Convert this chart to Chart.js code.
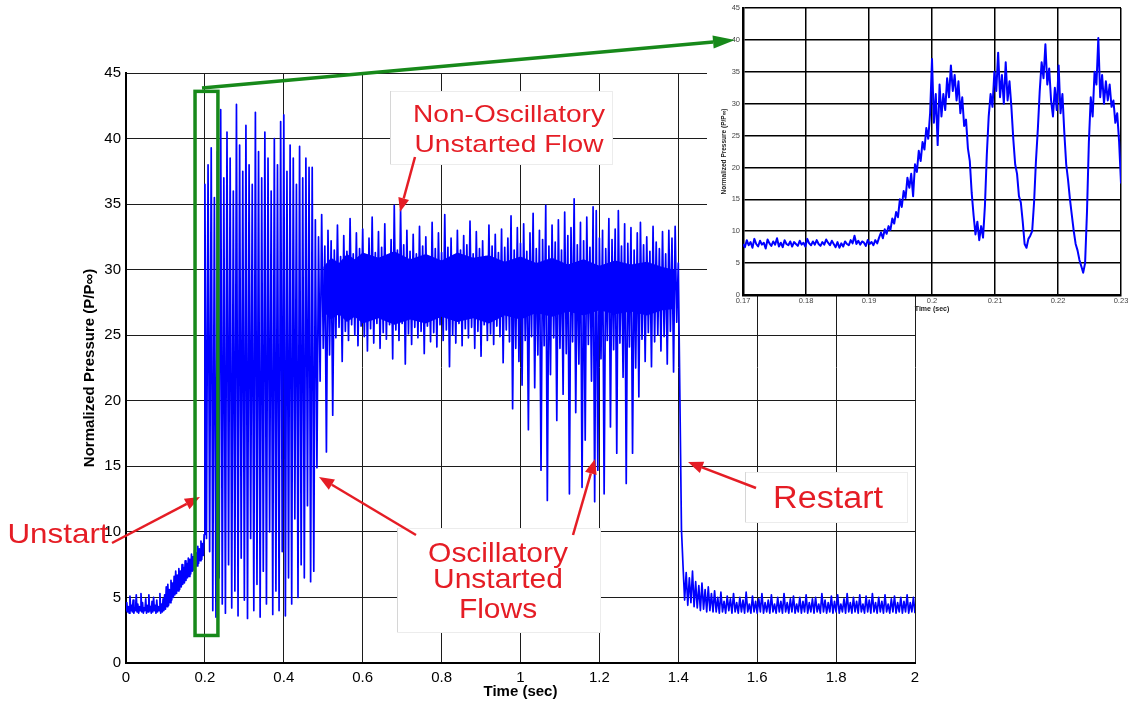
<!DOCTYPE html>
<html>
<head>
  <title>Normalized Pressure vs Time</title>
  <script src="https://cdn.jsdelivr.net/npm/chart.js@4.4.1/dist/chart.umd.min.js"></script>
  <style>
    body { margin: 0; background: #fff; }
    #stage { position: relative; width: 1128px; height: 706px; }
    #stage canvas { position: absolute; left: 0; top: 0; }
  </style>
</head>
<body>
  <div id="stage">
    <canvas id="mainChart" width="1128" height="706"></canvas>
    <canvas id="zoomChart" width="1128" height="706"></canvas>
  </div>
<script>
// ---- pressure record, sampled in segments (start time, step, values) ----

// 0 - 0.198 s, before the unstart (dt = 0.002)
var preUnstart = [
  4.0, 4.6, 3.9, 4.3, 3.8, 5.1, 4.0, 4.4, 3.9, 4.8, 3.8, 4.2, 4.0, 5.2, 3.9, 4.5, 3.8, 4.3, 4.0, 5.3,
  3.9, 4.6, 3.8, 4.2, 4.0, 4.9, 3.8, 4.4, 3.9, 5.2, 4.0, 4.3, 3.8, 4.7, 3.9, 5.0, 4.0, 4.4, 3.8, 4.8,
  3.9, 4.3, 4.0, 5.3, 3.8, 4.5, 3.9, 4.9, 4.0, 5.2,
  4.1, 5.8, 4.3, 6.0, 4.4, 5.6, 4.6, 6.3, 4.8, 6.1, 5.0, 6.6, 5.2, 7.0, 5.3, 6.7, 5.5, 7.2, 5.6, 7.0,
  5.8, 7.5, 6.0, 7.3, 6.1, 7.8, 6.3, 7.6, 6.5, 8.0, 6.6, 7.9, 6.8, 8.3, 7.0, 8.1, 7.1, 8.6, 7.3, 8.4,
  7.4, 8.9, 7.6, 8.7, 7.8, 9.3, 7.9, 9.1, 8.2, 9.8
];

// 0.2 - 0.476 s, oscillatory unstart (dt = 0.004)
var oscillatory = [
  36.5, 9.5, 38.0, 8.5, 39.3, 4.0, 35.5, 3.5, 39.0, 6.5, 42.2, 4.5, 37.0, 3.8, 40.5, 7.5, 38.5, 4.2, 36.0, 5.5,
  42.6, 3.6, 39.5, 8.0, 37.5, 4.8, 41.0, 3.4, 38.0, 9.5, 36.5, 4.0, 42.0, 6.0, 39.0, 3.5, 37.0, 7.0, 40.5, 4.5,
  38.5, 10.0, 36.0, 3.7, 40.0, 5.5, 38.0, 4.0, 41.3, 8.5, 41.8, 3.6, 37.5, 6.5, 39.5, 4.5, 38.5, 11.0, 36.5, 5.0,
  39.4, 7.5, 37.0, 6.5, 38.5, 12.0, 37.8, 6.2, 37.8, 7.0
];

// 0.48 - 1.396 s, unstarted flow plateau (dt = 0.004)
var unstartedPlateau = [
  33.8, 14.9, 32.5, 21.5, 34.2, 24.0, 31.8, 16.1, 33.0, 23.5, 32.2, 18.9, 31.5, 24.8, 33.4, 25.6, 31.0, 23.0, 32.6, 25.3,
  31.4, 24.6, 33.9, 25.8, 31.2, 25.0, 32.8, 24.2, 31.6, 25.7, 33.1, 24.9, 31.0, 23.8, 32.4, 25.5, 34.0, 24.4, 31.3, 25.9,
  32.9, 24.0, 31.7, 25.2, 33.5, 24.7, 31.1, 25.8, 32.3, 23.2, 34.9, 25.4, 31.5, 24.6, 34.6, 25.9, 31.9, 22.8, 33.0, 25.1,
  31.4, 24.3, 32.7, 25.6, 31.2, 24.8, 33.3, 25.3, 31.8, 23.6, 32.5, 25.7, 31.0, 24.5, 33.6, 25.2, 31.6, 24.1, 32.8, 25.8,
  31.3, 24.6, 34.2, 25.4, 31.7, 22.6, 32.4, 25.0, 31.1, 24.4, 33.0, 25.9, 31.5, 24.2, 32.6, 25.5, 31.9, 24.8, 33.7, 25.6,
  31.2, 24.0, 32.9, 25.3, 31.6, 23.4, 32.2, 25.8, 31.0, 24.6, 33.4, 25.1, 31.8, 24.3, 32.7, 25.7, 31.3, 24.9, 33.1, 22.9,
  31.7, 25.4, 32.4, 24.5, 34.1, 19.4, 31.5, 24.0, 33.2, 23.0, 32.0, 21.2, 33.5, 24.6, 31.4, 17.8, 32.8, 24.9, 34.3, 21.0,
  31.6, 23.5, 33.0, 14.7, 32.3, 24.2, 34.9, 12.4, 31.8, 22.0, 33.4, 24.8, 32.1, 18.5, 33.8, 24.0, 31.5, 20.5, 34.4, 23.6,
  32.6, 12.9, 33.2, 24.5, 35.4, 19.1, 31.9, 22.8, 33.6, 13.4, 32.2, 17.0, 34.0, 24.3, 31.7, 21.5, 34.8, 12.3, 34.5, 14.7,
  32.4, 23.2, 33.0, 12.9, 31.6, 24.6, 33.9, 18.0, 32.3, 23.9, 33.1, 16.0, 34.5, 24.4, 31.8, 21.8, 33.5, 13.7, 32.0, 24.1,
  33.2, 16.0, 31.5, 22.5, 32.8, 20.3, 33.6, 24.7, 31.9, 23.0, 32.5, 25.2, 31.4, 22.6, 33.3, 24.5, 32.1, 25.0, 31.6, 23.8,
  32.9, 24.9, 31.2, 22.8, 33.0, 25.3, 32.4, 22.2, 33.3, 26.0
];

// dense core of the plateau noise (time, upper and lower edge)
var plateauCoreTime  = [0.50, 0.52, 0.54, 0.56, 0.58, 0.60, 0.64, 0.68, 0.72, 0.76, 0.80, 0.84, 0.88, 0.92,
                        0.96, 1.00, 1.04, 1.08, 1.12, 1.16, 1.20, 1.24, 1.28, 1.32, 1.36, 1.39];
var plateauCoreUpper = [30.2, 30.9, 30.5, 31.2, 30.8, 31.3, 30.9, 31.4, 30.8, 31.2, 30.7, 31.3, 30.9,
                        31.1, 30.6, 31.0, 30.5, 30.9, 30.4, 30.8, 30.3, 30.7, 30.4, 30.6, 30.2, 30.0];
var plateauCoreLower = [26.8, 26.2, 26.6, 26.0, 26.4, 25.9, 26.3, 25.8, 26.2, 25.9, 26.4, 26.0, 26.3,
                        25.9, 26.5, 26.2, 26.7, 26.4, 26.8, 26.5, 26.9, 26.6, 26.8, 26.5, 26.9, 27.0];

// 1.4 - 2.0 s, restart and started flow (dt = 0.004)
var restartTail = [
  30.5, 20.3, 10.2, 7.4,
  4.8, 6.9, 4.4, 6.5, 4.6, 7.0, 4.3, 6.2, 4.2, 5.9, 4.0, 6.1, 4.1, 5.6, 3.9, 5.8, 4.0, 5.3, 3.9, 5.5,
  3.9, 5.0, 3.8, 5.4, 3.9, 4.7, 3.8, 5.1, 4.0, 4.9, 3.8, 5.3, 3.9, 4.6, 3.8, 5.0, 3.9, 4.8, 3.8, 5.4,
  3.9, 4.5, 3.8, 5.1, 3.9, 4.7, 3.8, 4.9, 3.9, 5.3, 3.8, 4.6, 3.9, 4.8, 3.8, 5.2, 3.9, 4.5, 3.8, 5.0,
  3.9, 4.7, 3.8, 5.3, 3.9, 4.6, 3.8, 4.9, 3.9, 5.1, 3.8, 4.5, 3.9, 5.0, 3.8, 4.7, 3.9, 5.2, 3.8, 4.6,
  3.9, 4.9, 3.8, 5.0, 3.9, 4.5, 3.8, 5.3, 3.9, 4.8, 3.8, 4.6, 3.9, 5.1, 3.8, 4.7, 3.9, 5.2, 3.8, 4.5,
  3.9, 4.9, 3.8, 5.3, 3.9, 4.6, 3.8, 5.0, 3.9, 4.7, 3.8, 5.2, 3.9, 4.5, 3.8, 5.1, 3.9, 4.8, 3.8, 5.3,
  3.9, 4.6, 3.8, 5.0, 3.9, 4.7, 3.8, 5.2, 3.9, 4.5, 3.8, 4.9, 3.9, 5.1, 3.8, 4.6, 3.9, 5.0, 3.8, 4.7,
  3.9, 5.2, 3.8, 4.6, 3.9, 5.0, 3.8
];

// 0.17 - 0.23 s close-up of the unstart (dt = 0.0003)
var unstartCloseUp = [
  8.0, 7.5, 8.6, 7.8, 8.3, 7.4, 8.8, 8.0, 7.6, 8.5, 7.9, 8.2, 7.3, 8.7, 8.1, 7.7, 8.4, 7.9, 8.9, 7.6,
  8.2, 7.5, 8.6, 8.0, 7.8, 8.4, 7.6, 8.3, 8.0, 7.7, 8.5, 7.9, 8.2, 7.6, 8.8, 8.1, 7.8, 8.4, 7.9, 8.6,
  8.0, 7.7, 8.3, 7.9, 8.7, 8.2, 7.8, 8.5, 8.0, 7.5, 8.3, 7.4, 8.1, 7.6, 8.4, 8.0, 7.8, 8.6, 8.1, 9.3,
  8.0, 8.5, 7.9, 8.4, 8.2, 7.7, 8.6, 8.0, 8.3, 7.8,
  8.6, 8.1, 9.0, 9.8, 8.9, 10.3, 9.6, 10.8, 10.2, 12.0, 11.2, 13.0, 12.2, 15.0, 13.8, 16.3, 15.2, 18.4, 16.8, 19.0,
  15.5, 20.5, 19.3, 22.6, 21.0, 24.0, 22.8, 26.2, 24.5, 28.5,
  37.0, 27.0, 31.5, 23.5, 33.0, 28.0, 31.5, 29.0, 34.0, 31.0, 36.0, 32.0, 34.5, 30.5, 33.5, 28.5, 31.0, 26.5, 27.5, 23.0,
  21.0, 16.0, 12.5, 9.5, 11.5, 8.6, 10.8, 9.0, 14.0, 22.0, 28.0, 31.5, 29.5, 35.0, 32.0, 38.0, 31.0, 34.5, 30.0, 36.5,
  30.5, 33.5, 29.5, 24.5, 20.5, 19.0, 15.5, 14.5, 11.5, 8.0, 7.4, 8.8, 9.3, 10.0, 14.5, 21.0, 26.0, 32.0, 36.5, 34.0,
  39.3, 33.0, 35.5, 30.5, 28.0, 32.5, 29.0, 36.0, 28.5, 31.5, 25.5, 20.5, 18.0, 15.0, 12.5, 10.0, 8.0, 7.0, 5.5, 4.5,
  3.5, 5.0, 13.0, 24.0, 31.0, 28.0, 35.0, 33.0, 40.3, 31.0, 34.5, 30.0, 33.5, 30.5, 33.0, 29.5, 30.5, 27.0, 28.5, 24.0,
  17.5
];

var mainTimeTicks = [0, 0.2, 0.4, 0.6, 0.8, 1, 1.2, 1.4, 1.6, 1.8, 2];
var zoomTimeTicks = [0.17, 0.18, 0.19, 0.2, 0.21, 0.22, 0.23];
var pressureTicks = [0, 5, 10, 15, 20, 25, 30, 35, 40, 45];

// window of the record shown in the close-up (time range, pressure range)
var zoomWindow = { t0: 0.175, t1: 0.233, lo: 2.1, hi: 43.6 };

function toPoints(t0, dt, values) {
  return values.map(function (v, i) {
    return { x: +(t0 + i * dt).toFixed(5), y: v };
  });
}
function pairUp(times, values) {
  return times.map(function (t, i) { return { x: t, y: values[i] }; });
}

var mainTrace = [].concat(
  toPoints(0, 0.002, preUnstart),
  toPoints(0.2, 0.004, oscillatory),
  toPoints(0.48, 0.004, unstartedPlateau),
  toPoints(1.4, 0.004, restartTail)
);
var zoomTrace = toPoints(0.17, 0.0003, unstartCloseUp);

var narrow = "'Liberation Sans Narrow', 'Arial Narrow', 'Liberation Sans', Arial, sans-serif";
var arial = "'Liberation Sans', Arial, sans-serif";
var blue = '#0000ff';
var red = '#e51d25';
var green = '#17891a';

function drawArrow(ctx, x1, y1, x2, y2, color, width, headLen, headW) {
  var a = Math.atan2(y2 - y1, x2 - x1);
  var bx = x2 - headLen * Math.cos(a), by = y2 - headLen * Math.sin(a);
  ctx.save();
  ctx.strokeStyle = color;
  ctx.fillStyle = color;
  ctx.lineWidth = width;
  ctx.beginPath();
  ctx.moveTo(x1, y1);
  ctx.lineTo(bx, by);
  ctx.stroke();
  ctx.beginPath();
  ctx.moveTo(x2, y2);
  ctx.lineTo(bx + headW / 2 * Math.sin(a), by - headW / 2 * Math.cos(a));
  ctx.lineTo(bx - headW / 2 * Math.sin(a), by + headW / 2 * Math.cos(a));
  ctx.closePath();
  ctx.fill();
  ctx.restore();
}

// centred red text, stretched a little sideways
function drawLabel(ctx, text, cx, baseline, size, stretch) {
  ctx.save();
  ctx.font = size + 'px ' + arial;
  ctx.fillStyle = red;
  ctx.textAlign = 'center';
  ctx.textBaseline = 'alphabetic';
  ctx.translate(cx, baseline);
  ctx.scale(stretch, 1);
  ctx.fillText(text, 0, 0);
  ctx.restore();
}

function drawBox(ctx, x, y, w, h) {
  ctx.save();
  ctx.fillStyle = '#fff';
  ctx.fillRect(x, y, w, h);
  ctx.strokeStyle = '#ececec';
  ctx.lineWidth = 1;
  ctx.strokeRect(x + 0.5, y + 0.5, w, h);
  ctx.strokeStyle = '#d6d6d6';
  ctx.beginPath();
  ctx.moveTo(x + 0.5, y);
  ctx.lineTo(x + 0.5, y + h);
  ctx.stroke();
  ctx.restore();
}

// callouts on the full record
var calloutPlugin = {
  id: 'callouts',
  afterDraw: function (chart) {
    var ctx = chart.ctx;
    var xs = chart.scales.x, ys = chart.scales.y;

    drawBox(ctx, 390, 91, 222, 73);
    drawLabel(ctx, 'Non-Oscillatory', 509, 122, 24, 1.17);
    drawLabel(ctx, 'Unstarted Flow', 509, 152, 24, 1.17);
    drawArrow(ctx, 415, 157, 400, 212, red, 2.5, 14, 11);

    drawBox(ctx, 397, 528, 203, 104);
    drawLabel(ctx, 'Oscillatory', 498, 562, 28, 1.07);
    drawLabel(ctx, 'Unstarted', 498, 588, 28, 1.07);
    drawLabel(ctx, 'Flows', 498, 618, 28, 1.07);
    drawArrow(ctx, 416, 535, 319, 477, red, 2.5, 15, 12);
    drawArrow(ctx, 573, 535, 595, 459, red, 2.5, 15, 12);

    drawBox(ctx, 745, 472, 162, 50);
    drawLabel(ctx, 'Restart', 828, 508, 31, 1.1);
    drawArrow(ctx, 756, 488, 688, 462, red, 2.5, 15, 12);

    drawLabel(ctx, 'Unstart', 58, 543, 28, 1.12);
    drawArrow(ctx, 112, 543, 200, 497, red, 2.5, 15, 12);

    // frame around the close-up window
    var l = xs.getPixelForValue(zoomWindow.t0), r = xs.getPixelForValue(zoomWindow.t1);
    var t = ys.getPixelForValue(zoomWindow.hi), b = ys.getPixelForValue(zoomWindow.lo);
    ctx.save();
    ctx.strokeStyle = green;
    ctx.lineWidth = 3.5;
    ctx.strokeRect(l, t, r - l, b - t);
    ctx.restore();
  }
};

function fixWidth(w) {
  return function (s) { s.width = w; s.paddingTop = 0; s.paddingBottom = 0; };
}
function fixHeight(h) {
  return function (s) { s.height = h; s.paddingLeft = 0; s.paddingRight = 0; };
}

new Chart(document.getElementById('mainChart'), {
  type: 'line',
  data: {
    datasets: [{
      data: mainTrace,
      borderColor: blue,
      borderWidth: 1.7,
      borderJoinStyle: 'round',
      pointRadius: 0,
      tension: 0
    }, {
      data: pairUp(plateauCoreTime, plateauCoreUpper),
      borderWidth: 0,
      pointRadius: 0,
      fill: false
    }, {
      data: pairUp(plateauCoreTime, plateauCoreLower),
      borderWidth: 0,
      pointRadius: 0,
      backgroundColor: blue,
      fill: '-1'
    }]
  },
  options: {
    responsive: false,
    animation: false,
    devicePixelRatio: 1,
    layout: { padding: { left: 0, top: 73, right: 213, bottom: 0 } },
    plugins: { legend: { display: false }, tooltip: { enabled: false } },
    scales: {
      x: {
        type: 'linear', min: 0, max: 2,
        afterFit: fixHeight(43),
        afterBuildTicks: function (s) { s.ticks = mainTimeTicks.map(function (v) { return { value: v }; }); },
        grid: { color: '#1c1c1c', lineWidth: 1, drawTicks: false },
        border: { display: true, color: '#000', width: 2 },
        ticks: {
          padding: 6, color: '#000', maxRotation: 0, autoSkip: false,
          font: { family: narrow, size: 15 },
          callback: function (v) { return String(Math.round(v * 10) / 10); }
        },
        title: {
          display: true, text: 'Time (sec)', color: '#000',
          font: { family: narrow, size: 15, weight: 'bold' },
          padding: { top: 0, bottom: 5 }
        }
      },
      y: {
        min: 0, max: 45,
        afterFit: fixWidth(126),
        afterBuildTicks: function (s) { s.ticks = pressureTicks.map(function (v) { return { value: v }; }); },
        grid: { color: '#1c1c1c', lineWidth: 1, drawTicks: false },
        border: { display: true, color: '#000', width: 2 },
        ticks: {
          padding: 5, color: '#000', autoSkip: false,
          font: { family: narrow, size: 15 }
        },
        title: {
          display: true, text: 'Normalized Pressure (P/P\u221E)', color: '#000',
          font: { family: narrow, size: 15, weight: 'bold' },
          padding: { top: 81, bottom: 0 }
        }
      }
    }
  },
  plugins: [calloutPlugin]
});

// white panel behind the close-up, and the pointer from the main record to it
var insetPlugin = {
  id: 'insetPanel',
  beforeDraw: function (chart) {
    var ctx = chart.ctx;
    ctx.save();
    ctx.fillStyle = '#fff';
    ctx.fillRect(707, 0, 421, 296);
    ctx.restore();
  },
  afterDraw: function (chart) {
    drawArrow(chart.ctx, 202, 88, 735, 40, green, 3.5, 22, 13);
  }
};

new Chart(document.getElementById('zoomChart'), {
  type: 'line',
  data: {
    datasets: [{
      data: zoomTrace,
      borderColor: blue,
      borderWidth: 2,
      borderJoinStyle: 'round',
      pointRadius: 0,
      tension: 0
    }]
  },
  options: {
    responsive: false,
    animation: false,
    devicePixelRatio: 1,
    layout: { padding: { left: 706, top: 8, right: 7, bottom: 391 } },
    plugins: { legend: { display: false }, tooltip: { enabled: false } },
    scales: {
      x: {
        type: 'linear', min: 0.17, max: 0.23,
        afterFit: fixHeight(20),
        afterBuildTicks: function (s) { s.ticks = zoomTimeTicks.map(function (v) { return { value: v }; }); },
        grid: { color: '#000', lineWidth: 1.5, drawTicks: false },
        border: { display: true, color: '#000', width: 2.5 },
        ticks: {
          padding: 1.5, color: '#444', maxRotation: 0, autoSkip: false,
          font: { family: arial, size: 7.5 },
          callback: function (v) { return String(Math.round(v * 100) / 100); }
        },
        title: {
          display: true, text: 'Time (sec)', color: '#222',
          font: { family: arial, size: 7, weight: 'bold' },
          padding: { top: 0, bottom: 1.8 }
        }
      },
      y: {
        min: 0, max: 45,
        afterFit: fixWidth(37),
        afterBuildTicks: function (s) { s.ticks = pressureTicks.map(function (v) { return { value: v }; }); },
        grid: { color: '#000', lineWidth: 1.5, drawTicks: false },
        border: { display: true, color: '#000', width: 2.5 },
        ticks: {
          padding: 3, color: '#444', autoSkip: false,
          font: { family: arial, size: 7.5 }
        },
        title: {
          display: true, text: 'Normalized Pressure (P/P\u221E)', color: '#222',
          font: { family: arial, size: 6.5, weight: 'bold' },
          padding: { top: 14, bottom: 0 }
        }
      }
    }
  },
  plugins: [insetPlugin]
});
</script>
</body>
</html>
